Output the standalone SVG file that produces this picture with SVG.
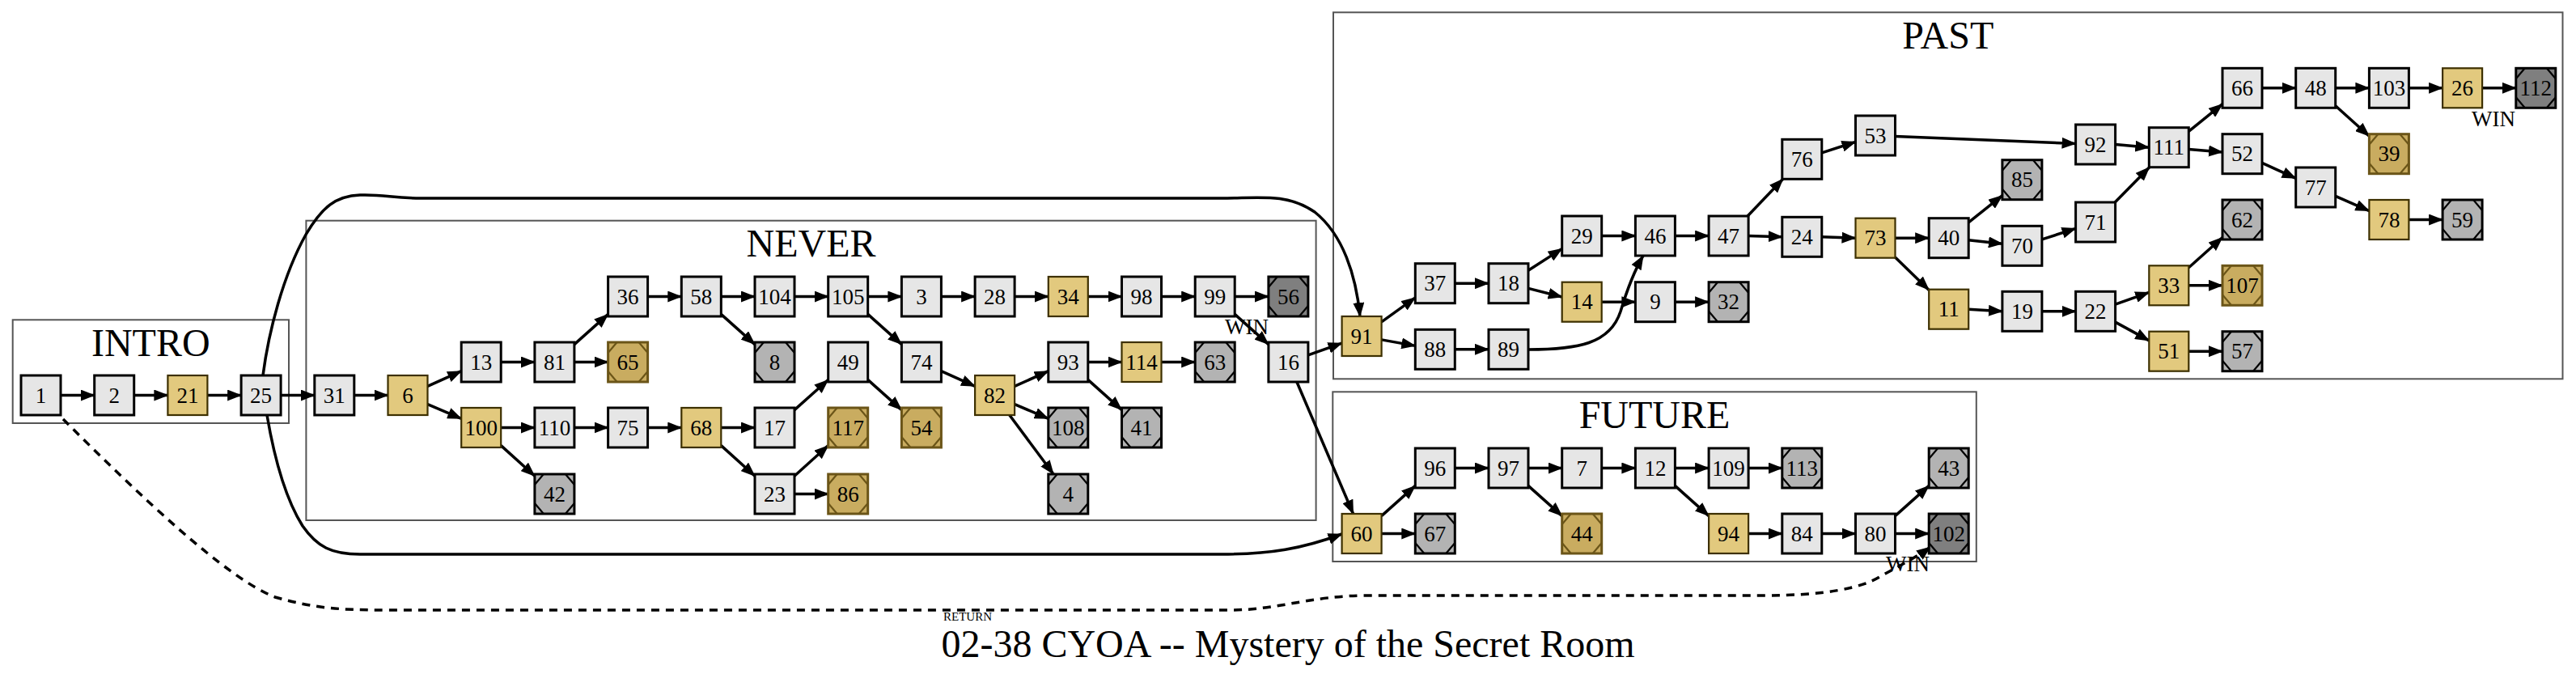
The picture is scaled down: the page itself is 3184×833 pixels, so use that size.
<svg xmlns="http://www.w3.org/2000/svg" xmlns:xlink="http://www.w3.org/1999/xlink" width="3184" height="833" viewBox="0 0 3184 833">
<style>
text{font-family:"Liberation Serif","Times New Roman",serif;text-anchor:middle;fill:#000}
g.nl text,g.ng text,g.ne text,g.nd text,g.nw text{font-size:27px}
.cl rect{fill:none;stroke:#555;stroke-width:2}
.cl text{font-size:48px}
.nl rect{fill:#e6e6e6;stroke:#000;stroke-width:3}
.ng rect{fill:#e2c97e;stroke:#3d3000;stroke-width:2.2}
.ne rect{fill:#b3b3b3;stroke:#000;stroke-width:3}
.nd rect{fill:#c9ac60;stroke:#6b5518;stroke-width:3}
.nw rect{fill:#7f7f7f;stroke:#000;stroke-width:3}
.ne use,.nw use{stroke:#000}
.nd use{stroke:#6b5518}
#edges path{fill:none;stroke:#000;stroke-width:3.5;marker-end:url(#ah)}
#edges path.dash{stroke-dasharray:10 8}
</style>
<defs>
<marker id="ah" markerUnits="userSpaceOnUse" markerWidth="18" markerHeight="14" refX="17" refY="7" orient="auto" viewBox="0 0 18 14"><path d="M0,0 L18,7 L0,14 z" fill="#000"/></marker>
<path id="mk" d="M11,0 L0,13 M38,0 L49,13 M0,36 L11,49 M49,36 L38,49" fill="none" stroke-width="2.2"/>
</defs>
<rect width="3184" height="833" fill="#fff"/>
<g id="clusters" class="cl">
<g id="c-intro"><rect x="15.7" y="395.3" width="341.3" height="127.7"/><text x="186.3" y="440">INTRO</text></g>
<g id="c-never"><rect x="378.4" y="272.7" width="1248.2" height="370.3"/><text x="1002.5" y="317">NEVER</text></g>
<g id="c-past"><rect x="1648" y="15.3" width="1519.5" height="453"/><text x="2407.8" y="60">PAST</text></g>
<g id="c-future"><rect x="1647.3" y="484.3" width="795.5" height="209.7"/><text x="2045" y="529">FUTURE</text></g>
</g>
<g id="edges">
<path d="M75,488.5 L116.7,488.5"/>
<path d="M165.7,488.5 L207.4,488.5"/>
<path d="M256.4,488.5 L298.1,488.5"/>
<path d="M347.1,488.5 L388.8,488.5"/>
<path d="M325,464 C332,410 350,340 378,290 C398,256 415,242 445,241 C475,240 485,245 520,245 L1510,245 C1555,245 1590,238 1625,262 C1660,290 1676,340 1681,391"/>
<path d="M330,513 C338,560 352,615 374,650 C392,676 410,685 445,685 L1510,685 C1570,685 1610,678 1658.6,660"/>
<path class="dash" d="M78,518 C170,610 280,715 340,738 C390,752 420,754 480,754 L1520,754 C1580,754 1620,736 1690,736 L2180,736 C2250,736 2300,728 2325,712 C2350,698 2370,688 2386,676"/>
<path d="M437.8,488.5 L479.5,488.5"/>
<path d="M528.5,477.4 L570.2,458.6"/>
<path d="M528.5,499.6 L570.2,517.4"/>
<path d="M619.2,447.5 L660.9,447.5"/>
<path d="M709.9,425.6 L751.6,388.4"/>
<path d="M709.9,447.5 L751.6,447.5"/>
<path d="M619.2,528.5 L660.9,528.5"/>
<path d="M619.2,550.6 L660.9,588.3"/>
<path d="M709.9,528.5 L751.6,528.5"/>
<path d="M800.6,528.5 L842.3,528.5"/>
<path d="M800.6,366.5 L842.3,366.5"/>
<path d="M891.3,366.5 L933,366.5"/>
<path d="M891.3,388.4 L933,425.6"/>
<path d="M891.3,528.5 L933,528.5"/>
<path d="M891.3,550.6 L933,588.3"/>
<path d="M982,366.5 L1023.7,366.5"/>
<path d="M982,506.6 L1023.7,469.4"/>
<path d="M982,588.3 L1023.7,550.6"/>
<path d="M982,610.5 L1023.7,610.5"/>
<path d="M1072.7,366.5 L1114.4,366.5"/>
<path d="M1072.7,388.4 L1114.4,425.6"/>
<path d="M1072.7,469.4 L1114.4,506.6"/>
<path d="M1163.4,366.5 L1205.1,366.5"/>
<path d="M1163.4,458.6 L1205.1,477.4"/>
<path d="M1254.1,366.5 L1295.8,366.5"/>
<path d="M1254.1,477.4 L1295.8,458.6"/>
<path d="M1254.1,499.6 L1295.8,517.4"/>
<path d="M1247.8,513 L1302.1,586"/>
<path d="M1344.8,366.5 L1386.5,366.5"/>
<path d="M1344.8,447.5 L1386.5,447.5"/>
<path d="M1344.8,469.4 L1386.5,506.6"/>
<path d="M1435.5,366.5 L1477.2,366.5"/>
<path d="M1435.5,447.5 L1477.2,447.5"/>
<path d="M1526.2,366.5 L1567.9,366.5"/>
<path d="M1526.2,388.4 L1567.9,425.6"/>
<path d="M1616.9,438.9 L1658.6,424.1"/>
<path d="M1602.9,472 L1672.6,635"/>
<path d="M1707.6,397.9 L1749.3,367.8"/>
<path d="M1707.6,419.9 L1749.3,427.4"/>
<path d="M1798.3,350.2 L1840,350.2"/>
<path d="M1889,334.3 L1930.7,307.4"/>
<path d="M1889,356.4 L1930.7,367"/>
<path d="M1798.3,431.8 L1840,431.8"/>
<path d="M1889,432 C1950,432 1990,425 2003,385 C2012,355 2020,335 2031,316"/>
<path d="M1979.7,291.5 L2021.4,291.5"/>
<path d="M1979.7,373.2 L2021.4,373.2"/>
<path d="M2070.4,373.2 L2112.1,373.2"/>
<path d="M2070.4,291.5 L2112.1,291.5"/>
<path d="M2160.1,267 L2203.8,221.3"/>
<path d="M2161.1,291.5 L2202.8,292.8"/>
<path d="M2251.8,188.9 L2293.5,175.4"/>
<path d="M2251.8,292.8 L2293.5,294.2"/>
<path d="M2342.5,168.5 L2565.6,177.5"/>
<path d="M2342.5,294.2 L2384.2,294.2"/>
<path d="M2342.5,318 L2384.2,358.4"/>
<path d="M2433.2,274.8 L2474.9,241.7"/>
<path d="M2433.2,296.8 L2474.9,301.2"/>
<path d="M2433.2,382.2 L2474.9,384.8"/>
<path d="M2523.9,295.9 L2565.6,282.4"/>
<path d="M2614.2,250 L2656.7,206.7"/>
<path d="M2614.6,178.5 L2656.3,182.2"/>
<path d="M2523.9,384.8 L2565.6,384.8"/>
<path d="M2614.6,376.2 L2656.3,361.4"/>
<path d="M2614.6,398.1 L2656.3,420.9"/>
<path d="M2705.3,162.4 L2747,128.6"/>
<path d="M2705.3,184.4 L2747,188"/>
<path d="M2705.3,330.8 L2747,293.5"/>
<path d="M2705.3,352.8 L2747,352.8"/>
<path d="M2705.3,434.2 L2747,434.2"/>
<path d="M2796,108.8 L2837.7,108.8"/>
<path d="M2796,201.4 L2837.7,220.3"/>
<path d="M2886.7,108.8 L2928.4,108.8"/>
<path d="M2886.7,130.8 L2928.4,168.2"/>
<path d="M2886.7,242.3 L2928.4,260.7"/>
<path d="M2977.4,108.8 L3019.1,108.8"/>
<path d="M2977.4,271.5 L3019.1,271.5"/>
<path d="M3068.1,108.8 L3109.8,108.8"/>
<path d="M1707.6,637.6 L1749.3,600.4"/>
<path d="M1707.6,659.5 L1749.3,659.5"/>
<path d="M1798.3,578.5 L1840,578.5"/>
<path d="M1889,578.5 L1930.7,578.5"/>
<path d="M1889,600.4 L1930.7,637.6"/>
<path d="M1979.7,578.5 L2021.4,578.5"/>
<path d="M2070.4,578.5 L2112.1,578.5"/>
<path d="M2070.4,600.4 L2112.1,637.6"/>
<path d="M2161.1,578.5 L2202.8,578.5"/>
<path d="M2161.1,659.5 L2202.8,659.5"/>
<path d="M2251.8,659.5 L2293.5,659.5"/>
<path d="M2342.5,637.6 L2384.2,600.4"/>
<path d="M2342.5,659.5 L2384.2,659.5"/>
</g>
<g id="nodes">
<g id="n1" class="nl"><rect x="26" y="464" width="49" height="49"/><text x="50.5" y="497.5">1</text></g>
<g id="n2" class="nl"><rect x="116.7" y="464" width="49" height="49"/><text x="141.2" y="497.5">2</text></g>
<g id="n21" class="ng"><rect x="207.4" y="464" width="49" height="49"/><text x="231.9" y="497.5">21</text></g>
<g id="n25" class="nl"><rect x="298.1" y="464" width="49" height="49"/><text x="322.6" y="497.5">25</text></g>
<g id="n31" class="nl"><rect x="388.8" y="464" width="49" height="49"/><text x="413.3" y="497.5">31</text></g>
<g id="n6" class="ng"><rect x="479.5" y="464" width="49" height="49"/><text x="504" y="497.5">6</text></g>
<g id="n13" class="nl"><rect x="570.2" y="423" width="49" height="49"/><text x="594.7" y="456.5">13</text></g>
<g id="n100" class="ng"><rect x="570.2" y="504" width="49" height="49"/><text x="594.7" y="537.5">100</text></g>
<g id="n81" class="nl"><rect x="660.9" y="423" width="49" height="49"/><text x="685.4" y="456.5">81</text></g>
<g id="n110" class="nl"><rect x="660.9" y="504" width="49" height="49"/><text x="685.4" y="537.5">110</text></g>
<g id="n42" class="ne"><rect x="660.9" y="586" width="49" height="49"/><use href="#mk" x="660.9" y="586"/><text x="685.4" y="619.5">42</text></g>
<g id="n36" class="nl"><rect x="751.6" y="342" width="49" height="49"/><text x="776.1" y="375.5">36</text></g>
<g id="n65" class="nd"><rect x="751.6" y="423" width="49" height="49"/><use href="#mk" x="751.6" y="423"/><text x="776.1" y="456.5">65</text></g>
<g id="n75" class="nl"><rect x="751.6" y="504" width="49" height="49"/><text x="776.1" y="537.5">75</text></g>
<g id="n58" class="nl"><rect x="842.3" y="342" width="49" height="49"/><text x="866.8" y="375.5">58</text></g>
<g id="n68" class="ng"><rect x="842.3" y="504" width="49" height="49"/><text x="866.8" y="537.5">68</text></g>
<g id="n104" class="nl"><rect x="933" y="342" width="49" height="49"/><text x="957.5" y="375.5">104</text></g>
<g id="n8" class="ne"><rect x="933" y="423" width="49" height="49"/><use href="#mk" x="933" y="423"/><text x="957.5" y="456.5">8</text></g>
<g id="n17" class="nl"><rect x="933" y="504" width="49" height="49"/><text x="957.5" y="537.5">17</text></g>
<g id="n23" class="nl"><rect x="933" y="586" width="49" height="49"/><text x="957.5" y="619.5">23</text></g>
<g id="n105" class="nl"><rect x="1023.7" y="342" width="49" height="49"/><text x="1048.2" y="375.5">105</text></g>
<g id="n49" class="nl"><rect x="1023.7" y="423" width="49" height="49"/><text x="1048.2" y="456.5">49</text></g>
<g id="n117" class="nd"><rect x="1023.7" y="504" width="49" height="49"/><use href="#mk" x="1023.7" y="504"/><text x="1048.2" y="537.5">117</text></g>
<g id="n86" class="nd"><rect x="1023.7" y="586" width="49" height="49"/><use href="#mk" x="1023.7" y="586"/><text x="1048.2" y="619.5">86</text></g>
<g id="n3" class="nl"><rect x="1114.4" y="342" width="49" height="49"/><text x="1138.9" y="375.5">3</text></g>
<g id="n74" class="nl"><rect x="1114.4" y="423" width="49" height="49"/><text x="1138.9" y="456.5">74</text></g>
<g id="n54" class="nd"><rect x="1114.4" y="504" width="49" height="49"/><use href="#mk" x="1114.4" y="504"/><text x="1138.9" y="537.5">54</text></g>
<g id="n28" class="nl"><rect x="1205.1" y="342" width="49" height="49"/><text x="1229.6" y="375.5">28</text></g>
<g id="n82" class="ng"><rect x="1205.1" y="464" width="49" height="49"/><text x="1229.6" y="497.5">82</text></g>
<g id="n34" class="ng"><rect x="1295.8" y="342" width="49" height="49"/><text x="1320.3" y="375.5">34</text></g>
<g id="n93" class="nl"><rect x="1295.8" y="423" width="49" height="49"/><text x="1320.3" y="456.5">93</text></g>
<g id="n108" class="ne"><rect x="1295.8" y="504" width="49" height="49"/><use href="#mk" x="1295.8" y="504"/><text x="1320.3" y="537.5">108</text></g>
<g id="n4" class="ne"><rect x="1295.8" y="586" width="49" height="49"/><use href="#mk" x="1295.8" y="586"/><text x="1320.3" y="619.5">4</text></g>
<g id="n98" class="nl"><rect x="1386.5" y="342" width="49" height="49"/><text x="1411" y="375.5">98</text></g>
<g id="n114" class="ng"><rect x="1386.5" y="423" width="49" height="49"/><text x="1411" y="456.5">114</text></g>
<g id="n41" class="ne"><rect x="1386.5" y="504" width="49" height="49"/><use href="#mk" x="1386.5" y="504"/><text x="1411" y="537.5">41</text></g>
<g id="n99" class="nl"><rect x="1477.2" y="342" width="49" height="49"/><text x="1501.7" y="375.5">99</text></g>
<g id="n63" class="ne"><rect x="1477.2" y="423" width="49" height="49"/><use href="#mk" x="1477.2" y="423"/><text x="1501.7" y="456.5">63</text></g>
<g id="n56" class="nw"><rect x="1567.9" y="342" width="49" height="49"/><use href="#mk" x="1567.9" y="342"/><text x="1592.4" y="375.5">56</text><text x="1541" y="412.5">WIN</text></g>
<g id="n16" class="nl"><rect x="1567.9" y="423" width="49" height="49"/><text x="1592.4" y="456.5">16</text></g>
<g id="n91" class="ng"><rect x="1658.6" y="391" width="49" height="49"/><text x="1683.1" y="424.5">91</text></g>
<g id="n37" class="nl"><rect x="1749.3" y="325.7" width="49" height="49"/><text x="1773.8" y="359.2">37</text></g>
<g id="n88" class="nl"><rect x="1749.3" y="407.3" width="49" height="49"/><text x="1773.8" y="440.8">88</text></g>
<g id="n18" class="nl"><rect x="1840" y="325.7" width="49" height="49"/><text x="1864.5" y="359.2">18</text></g>
<g id="n89" class="nl"><rect x="1840" y="407.3" width="49" height="49"/><text x="1864.5" y="440.8">89</text></g>
<g id="n29" class="nl"><rect x="1930.7" y="267" width="49" height="49"/><text x="1955.2" y="300.5">29</text></g>
<g id="n14" class="ng"><rect x="1930.7" y="348.7" width="49" height="49"/><text x="1955.2" y="382.2">14</text></g>
<g id="n46" class="nl"><rect x="2021.4" y="267" width="49" height="49"/><text x="2045.9" y="300.5">46</text></g>
<g id="n9" class="nl"><rect x="2021.4" y="348.7" width="49" height="49"/><text x="2045.9" y="382.2">9</text></g>
<g id="n47" class="nl"><rect x="2112.1" y="267" width="49" height="49"/><text x="2136.6" y="300.5">47</text></g>
<g id="n32" class="ne"><rect x="2112.1" y="348.7" width="49" height="49"/><use href="#mk" x="2112.1" y="348.7"/><text x="2136.6" y="382.2">32</text></g>
<g id="n76" class="nl"><rect x="2202.8" y="172.3" width="49" height="49"/><text x="2227.3" y="205.8">76</text></g>
<g id="n24" class="nl"><rect x="2202.8" y="268.3" width="49" height="49"/><text x="2227.3" y="301.8">24</text></g>
<g id="n53" class="nl"><rect x="2293.5" y="143" width="49" height="49"/><text x="2318" y="176.5">53</text></g>
<g id="n73" class="ng"><rect x="2293.5" y="269.7" width="49" height="49"/><text x="2318" y="303.2">73</text></g>
<g id="n40" class="nl"><rect x="2384.2" y="269.7" width="49" height="49"/><text x="2408.7" y="303.2">40</text></g>
<g id="n11" class="ng"><rect x="2384.2" y="357.7" width="49" height="49"/><text x="2408.7" y="391.2">11</text></g>
<g id="n85" class="ne"><rect x="2474.9" y="197.7" width="49" height="49"/><use href="#mk" x="2474.9" y="197.7"/><text x="2499.4" y="231.2">85</text></g>
<g id="n70" class="nl"><rect x="2474.9" y="279.3" width="49" height="49"/><text x="2499.4" y="312.8">70</text></g>
<g id="n19" class="nl"><rect x="2474.9" y="360.3" width="49" height="49"/><text x="2499.4" y="393.8">19</text></g>
<g id="n92" class="nl"><rect x="2565.6" y="154" width="49" height="49"/><text x="2590.1" y="187.5">92</text></g>
<g id="n71" class="nl"><rect x="2565.6" y="250" width="49" height="49"/><text x="2590.1" y="283.5">71</text></g>
<g id="n22" class="nl"><rect x="2565.6" y="360.3" width="49" height="49"/><text x="2590.1" y="393.8">22</text></g>
<g id="n111" class="nl"><rect x="2656.3" y="157.7" width="49" height="49"/><text x="2680.8" y="191.2">111</text></g>
<g id="n33" class="ng"><rect x="2656.3" y="328.3" width="49" height="49"/><text x="2680.8" y="361.8">33</text></g>
<g id="n51" class="ng"><rect x="2656.3" y="409.7" width="49" height="49"/><text x="2680.8" y="443.2">51</text></g>
<g id="n66" class="nl"><rect x="2747" y="84.3" width="49" height="49"/><text x="2771.5" y="117.8">66</text></g>
<g id="n52" class="nl"><rect x="2747" y="165.7" width="49" height="49"/><text x="2771.5" y="199.2">52</text></g>
<g id="n62" class="ne"><rect x="2747" y="247" width="49" height="49"/><use href="#mk" x="2747" y="247"/><text x="2771.5" y="280.5">62</text></g>
<g id="n107" class="nd"><rect x="2747" y="328.3" width="49" height="49"/><use href="#mk" x="2747" y="328.3"/><text x="2771.5" y="361.8">107</text></g>
<g id="n57" class="ne"><rect x="2747" y="409.7" width="49" height="49"/><use href="#mk" x="2747" y="409.7"/><text x="2771.5" y="443.2">57</text></g>
<g id="n48" class="nl"><rect x="2837.7" y="84.3" width="49" height="49"/><text x="2862.2" y="117.8">48</text></g>
<g id="n77" class="nl"><rect x="2837.7" y="207" width="49" height="49"/><text x="2862.2" y="240.5">77</text></g>
<g id="n103" class="nl"><rect x="2928.4" y="84.3" width="49" height="49"/><text x="2952.9" y="117.8">103</text></g>
<g id="n39" class="nd"><rect x="2928.4" y="165.7" width="49" height="49"/><use href="#mk" x="2928.4" y="165.7"/><text x="2952.9" y="199.2">39</text></g>
<g id="n78" class="ng"><rect x="2928.4" y="247" width="49" height="49"/><text x="2952.9" y="280.5">78</text></g>
<g id="n26" class="ng"><rect x="3019.1" y="84.3" width="49" height="49"/><text x="3043.6" y="117.8">26</text></g>
<g id="n59" class="ne"><rect x="3019.1" y="247" width="49" height="49"/><use href="#mk" x="3019.1" y="247"/><text x="3043.6" y="280.5">59</text></g>
<g id="n112" class="nw"><rect x="3109.8" y="84.3" width="49" height="49"/><use href="#mk" x="3109.8" y="84.3"/><text x="3134.3" y="117.8">112</text><text x="3082" y="155.5">WIN</text></g>
<g id="n60" class="ng"><rect x="1658.6" y="635" width="49" height="49"/><text x="1683.1" y="668.5">60</text></g>
<g id="n96" class="nl"><rect x="1749.3" y="554" width="49" height="49"/><text x="1773.8" y="587.5">96</text></g>
<g id="n67" class="ne"><rect x="1749.3" y="635" width="49" height="49"/><use href="#mk" x="1749.3" y="635"/><text x="1773.8" y="668.5">67</text></g>
<g id="n97" class="nl"><rect x="1840" y="554" width="49" height="49"/><text x="1864.5" y="587.5">97</text></g>
<g id="n7" class="nl"><rect x="1930.7" y="554" width="49" height="49"/><text x="1955.2" y="587.5">7</text></g>
<g id="n44" class="nd"><rect x="1930.7" y="635" width="49" height="49"/><use href="#mk" x="1930.7" y="635"/><text x="1955.2" y="668.5">44</text></g>
<g id="n12" class="nl"><rect x="2021.4" y="554" width="49" height="49"/><text x="2045.9" y="587.5">12</text></g>
<g id="n109" class="nl"><rect x="2112.1" y="554" width="49" height="49"/><text x="2136.6" y="587.5">109</text></g>
<g id="n94" class="ng"><rect x="2112.1" y="635" width="49" height="49"/><text x="2136.6" y="668.5">94</text></g>
<g id="n113" class="ne"><rect x="2202.8" y="554" width="49" height="49"/><use href="#mk" x="2202.8" y="554"/><text x="2227.3" y="587.5">113</text></g>
<g id="n84" class="nl"><rect x="2202.8" y="635" width="49" height="49"/><text x="2227.3" y="668.5">84</text></g>
<g id="n80" class="nl"><rect x="2293.5" y="635" width="49" height="49"/><text x="2318" y="668.5">80</text></g>
<g id="n43" class="ne"><rect x="2384.2" y="554" width="49" height="49"/><use href="#mk" x="2384.2" y="554"/><text x="2408.7" y="587.5">43</text></g>
<g id="n102" class="nw"><rect x="2384.2" y="635" width="49" height="49"/><use href="#mk" x="2384.2" y="635"/><text x="2408.7" y="668.5">102</text><text x="2358" y="705.5">WIN</text></g>
</g>
<g id="labels">
<text x="1196" y="767" font-size="15">RETURN</text>
<text x="1592" y="812" font-size="48">02-38 CYOA -- Mystery of the Secret Room</text>
</g>
</svg>
